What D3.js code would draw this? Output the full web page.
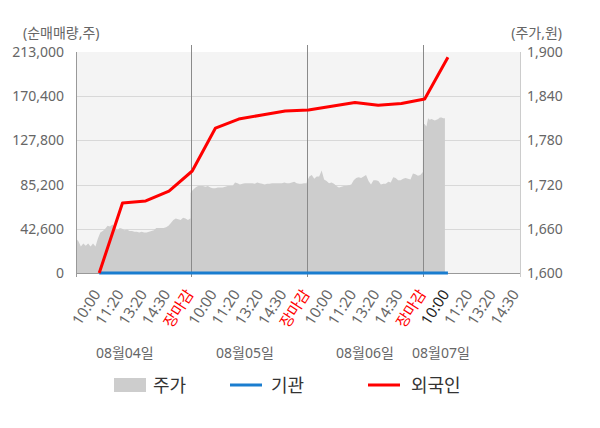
<!DOCTYPE html>
<meta charset="utf-8">
<style>
    body { margin: 0; background: #fff; }
    svg text { font-family: "Noto Sans", "Noto Sans CJK KR", sans-serif; }
</style>
<body>
<svg id="chart" width="600" height="428"></svg>
<script src="https://cdn.jsdelivr.net/npm/d3@7/dist/d3.min.js"></script>
<script>
    // x tick labels, one per session slot
    var tickLabels = ["10:00", "11:20", "13:20", "14:30", "장마감",
                      "10:00", "11:20", "13:20", "14:30", "장마감",
                      "10:00", "11:20", "13:20", "14:30", "장마감",
                      "10:00", "11:20", "13:20", "14:30"]
    var dateLabels = ["08월04일", "08월05일", "08월06일", "08월07일"]
    var leftTicks = [0, 42600, 85200, 127800, 170400, 213000]
    var rightTicks = [1600, 1660, 1720, 1780, 1840, 1900]

    // 주가 (won), sampled evenly through each day
    var price0804 = [1647, 1643, 1636, 1640, 1637, 1640, 1636, 1640, 1636, 1647, 1655, 1657,
                     1660, 1664, 1663, 1666, 1662, 1658, 1661, 1660, 1658, 1659, 1657, 1657,
                     1656, 1656, 1655, 1656, 1655, 1655, 1656, 1657, 1658, 1661, 1661, 1661,
                     1661, 1662, 1664, 1668, 1672, 1674, 1673, 1672, 1675, 1674, 1672, 1674]
    var price0805 = [1709, 1713, 1716, 1718, 1718, 1718, 1717, 1718, 1716, 1715, 1715, 1716,
                     1716, 1716, 1717, 1718, 1718, 1718, 1723, 1722, 1720, 1721, 1722, 1722,
                     1722, 1722, 1721, 1723, 1722, 1721, 1720, 1721, 1721, 1722, 1722, 1722,
                     1722, 1722, 1723, 1722, 1722, 1723, 1724, 1722, 1721, 1721, 1722, 1722]
    var price0806 = [1724, 1731, 1733, 1728, 1731, 1731, 1739, 1727, 1725, 1722, 1723, 1721,
                     1718, 1716, 1717, 1718, 1718, 1719, 1720, 1726, 1729, 1730, 1729, 1731,
                     1733, 1725, 1720, 1726, 1726, 1725, 1720, 1721, 1721, 1724, 1723, 1730,
                     1729, 1726, 1726, 1728, 1729, 1728, 1727, 1735, 1734, 1732, 1733, 1737]
    var price0807 = [1803, 1802, 1799, 1810, 1808, 1809, 1808, 1807, 1808, 1809, 1811, 1811, 1810, 1810]

    // 순매매량 누적 (주), one value per slot from 08/04 10:00
    var foreignNet = [0, 67500, 69400, 79000, 98300, 139700, 148400, 152300,
                      156100, 157100, 160800, 164300, 161600, 163300, 167700, 207900]
    var instNet = [0, 0, 0, 0, 0, 0, 0, 0, 0, 0, 0, 0, 0, 0, 0, 0]

    var svg = d3.select("#chart")
    var pl = 76, pr = 520, pt = 52, pb = 273

    var x = d3.scaleLinear().domain([-1, 18.1]).range([pl, pr])
    var yL = d3.scaleLinear().domain([0, 213000]).range([pb, pt])
    var yR = d3.scaleLinear().domain([1600, 1900]).range([pb, pt])

    // session boundaries in slot units
    var dayStart = [-1, 3.93, 8.93, 13.93]
    var dayEnd = [3.92, 8.92, 13.92, 14.87]

    var priceData = []
    ;[price0804, price0805, price0806, price0807].forEach(function(arr, d) {
        arr.forEach(function(v, i) {
            priceData.push({i: dayStart[d] + i * (dayEnd[d] - dayStart[d]) / (arr.length - 1), v: v})
        })
    })

    // plot background
    svg.append("rect")
        .attr("x", pl).attr("y", pt)
        .attr("width", pr - pl).attr("height", pb - pt)
        .attr("fill", "#f4f4f4")

    // horizontal grid
    svg.append("g").selectAll("line")
        .data(leftTicks.slice(1, 5))
        .enter().append("line")
        .attr("x1", pl).attr("x2", pr)
        .attr("y1", function(d) { return Math.round(yL(d)) + 0.5 })
        .attr("y2", function(d) { return Math.round(yL(d)) + 0.5 })
        .attr("stroke", "#d8d8d8")

    // price area
    svg.append("path")
        .datum(priceData)
        .attr("fill", "#cdcdcd")
        .attr("d", d3.area()
            .x(function(d) { return x(d.i) })
            .y0(yR(1600))
            .y1(function(d) { return yR(d.v) }))

    // day separators
    svg.append("g").selectAll("line")
        .data(dayStart.slice(1))
        .enter().append("line")
        .attr("x1", function(d) { return Math.round(x(d)) + 0.5 })
        .attr("x2", function(d) { return Math.round(x(d)) + 0.5 })
        .attr("y1", 45).attr("y2", 277)
        .attr("stroke", "#8a8a8a")

    // axis frame
    svg.append("line").attr("x1", pl + 0.5).attr("x2", pl + 0.5).attr("y1", pt).attr("y2", 277).attr("stroke", "#999")
    svg.append("line").attr("x1", pr + 0.5).attr("x2", pr + 0.5).attr("y1", pt).attr("y2", 277).attr("stroke", "#ccc")
    svg.append("line").attr("x1", pl).attr("x2", pr).attr("y1", pb + 0.5).attr("y2", pb + 0.5).attr("stroke", "#999")

    var line = d3.line()
        .x(function(d, i) { return x(i) })
        .y(function(d) { return yL(d) })

    svg.append("path").datum(instNet)
        .attr("fill", "none").attr("stroke", "#1a7dcf").attr("stroke-width", 3)
        .attr("d", line)
    svg.append("path").datum(foreignNet)
        .attr("fill", "none").attr("stroke", "#ff0000").attr("stroke-width", 3)
        .attr("stroke-linejoin", "round")
        .attr("d", line)

    // left axis
    var gl = svg.append("g").attr("transform", "translate(" + pl + ",0)")
        .call(d3.axisLeft(yL).tickValues(leftTicks).tickSize(0).tickPadding(12).tickFormat(d3.format(",")))
    gl.select(".domain").remove()
    gl.selectAll("text").attr("fill", "#666").style("font-size", "14px")

    // right axis
    var gr = svg.append("g").attr("transform", "translate(" + pr + ",0)")
        .call(d3.axisRight(yR).tickValues(rightTicks).tickSize(0).tickPadding(7).tickFormat(d3.format(",")))
    gr.select(".domain").remove()
    gr.selectAll("text").attr("fill", "#666").style("font-size", "14px")

    // bottom axis
    var gb = svg.append("g").attr("transform", "translate(0," + pb + ")")
        .call(d3.axisBottom(x).tickValues(d3.range(tickLabels.length)).tickSize(0)
            .tickFormat(function(i) { return tickLabels[i] }))
    gb.select(".domain").remove()
    gb.selectAll("text")
        .attr("x", 0).attr("y", 0).attr("dy", 0)
        .attr("text-anchor", "end")
        .attr("transform", "translate(1.5,21) rotate(-57)")
        .style("font-size", "15px")
        .attr("fill", function(d, i) {
            if (tickLabels[i] == "장마감") return "#ff0000"
            if (i == 15) return "#222"
            return "#666"
        })

    // date labels
    var datePos = [1.1, 6.27, 11.43, 14.7]
    svg.append("g").selectAll("text")
        .data(dateLabels)
        .enter().append("text")
        .attr("x", function(d, i) { return x(datePos[i]) })
        .attr("y", 358)
        .attr("text-anchor", "middle")
        .attr("fill", "#666")
        .style("font-size", "14px")
        .text(function(d) { return d })

    // axis titles
    svg.append("text").attr("x", 23).attr("y", 38).attr("fill", "#666").style("font-size", "14px").text("(순매매량,주)")
    svg.append("text").attr("x", 562).attr("y", 38).attr("text-anchor", "end").attr("fill", "#666").style("font-size", "14px").text("(주가,원)")

    // legend
    var lg = svg.append("g").style("font-size", "18px")
    lg.append("rect").attr("x", 114).attr("y", 378).attr("width", 32).attr("height", 14).attr("fill", "#cdcdcd")
    lg.append("text").attr("x", 153).attr("y", 392).attr("fill", "#333").text("주가")
    lg.append("line").attr("x1", 230).attr("x2", 262).attr("y1", 385).attr("y2", 385).attr("stroke", "#1a7dcf").attr("stroke-width", 3)
    lg.append("text").attr("x", 271).attr("y", 392).attr("fill", "#333").text("기관")
    lg.append("line").attr("x1", 368).attr("x2", 400).attr("y1", 385).attr("y2", 385).attr("stroke", "#ff0000").attr("stroke-width", 3)
    lg.append("text").attr("x", 411).attr("y", 392).attr("fill", "#333").text("외국인")
</script>
</body>
